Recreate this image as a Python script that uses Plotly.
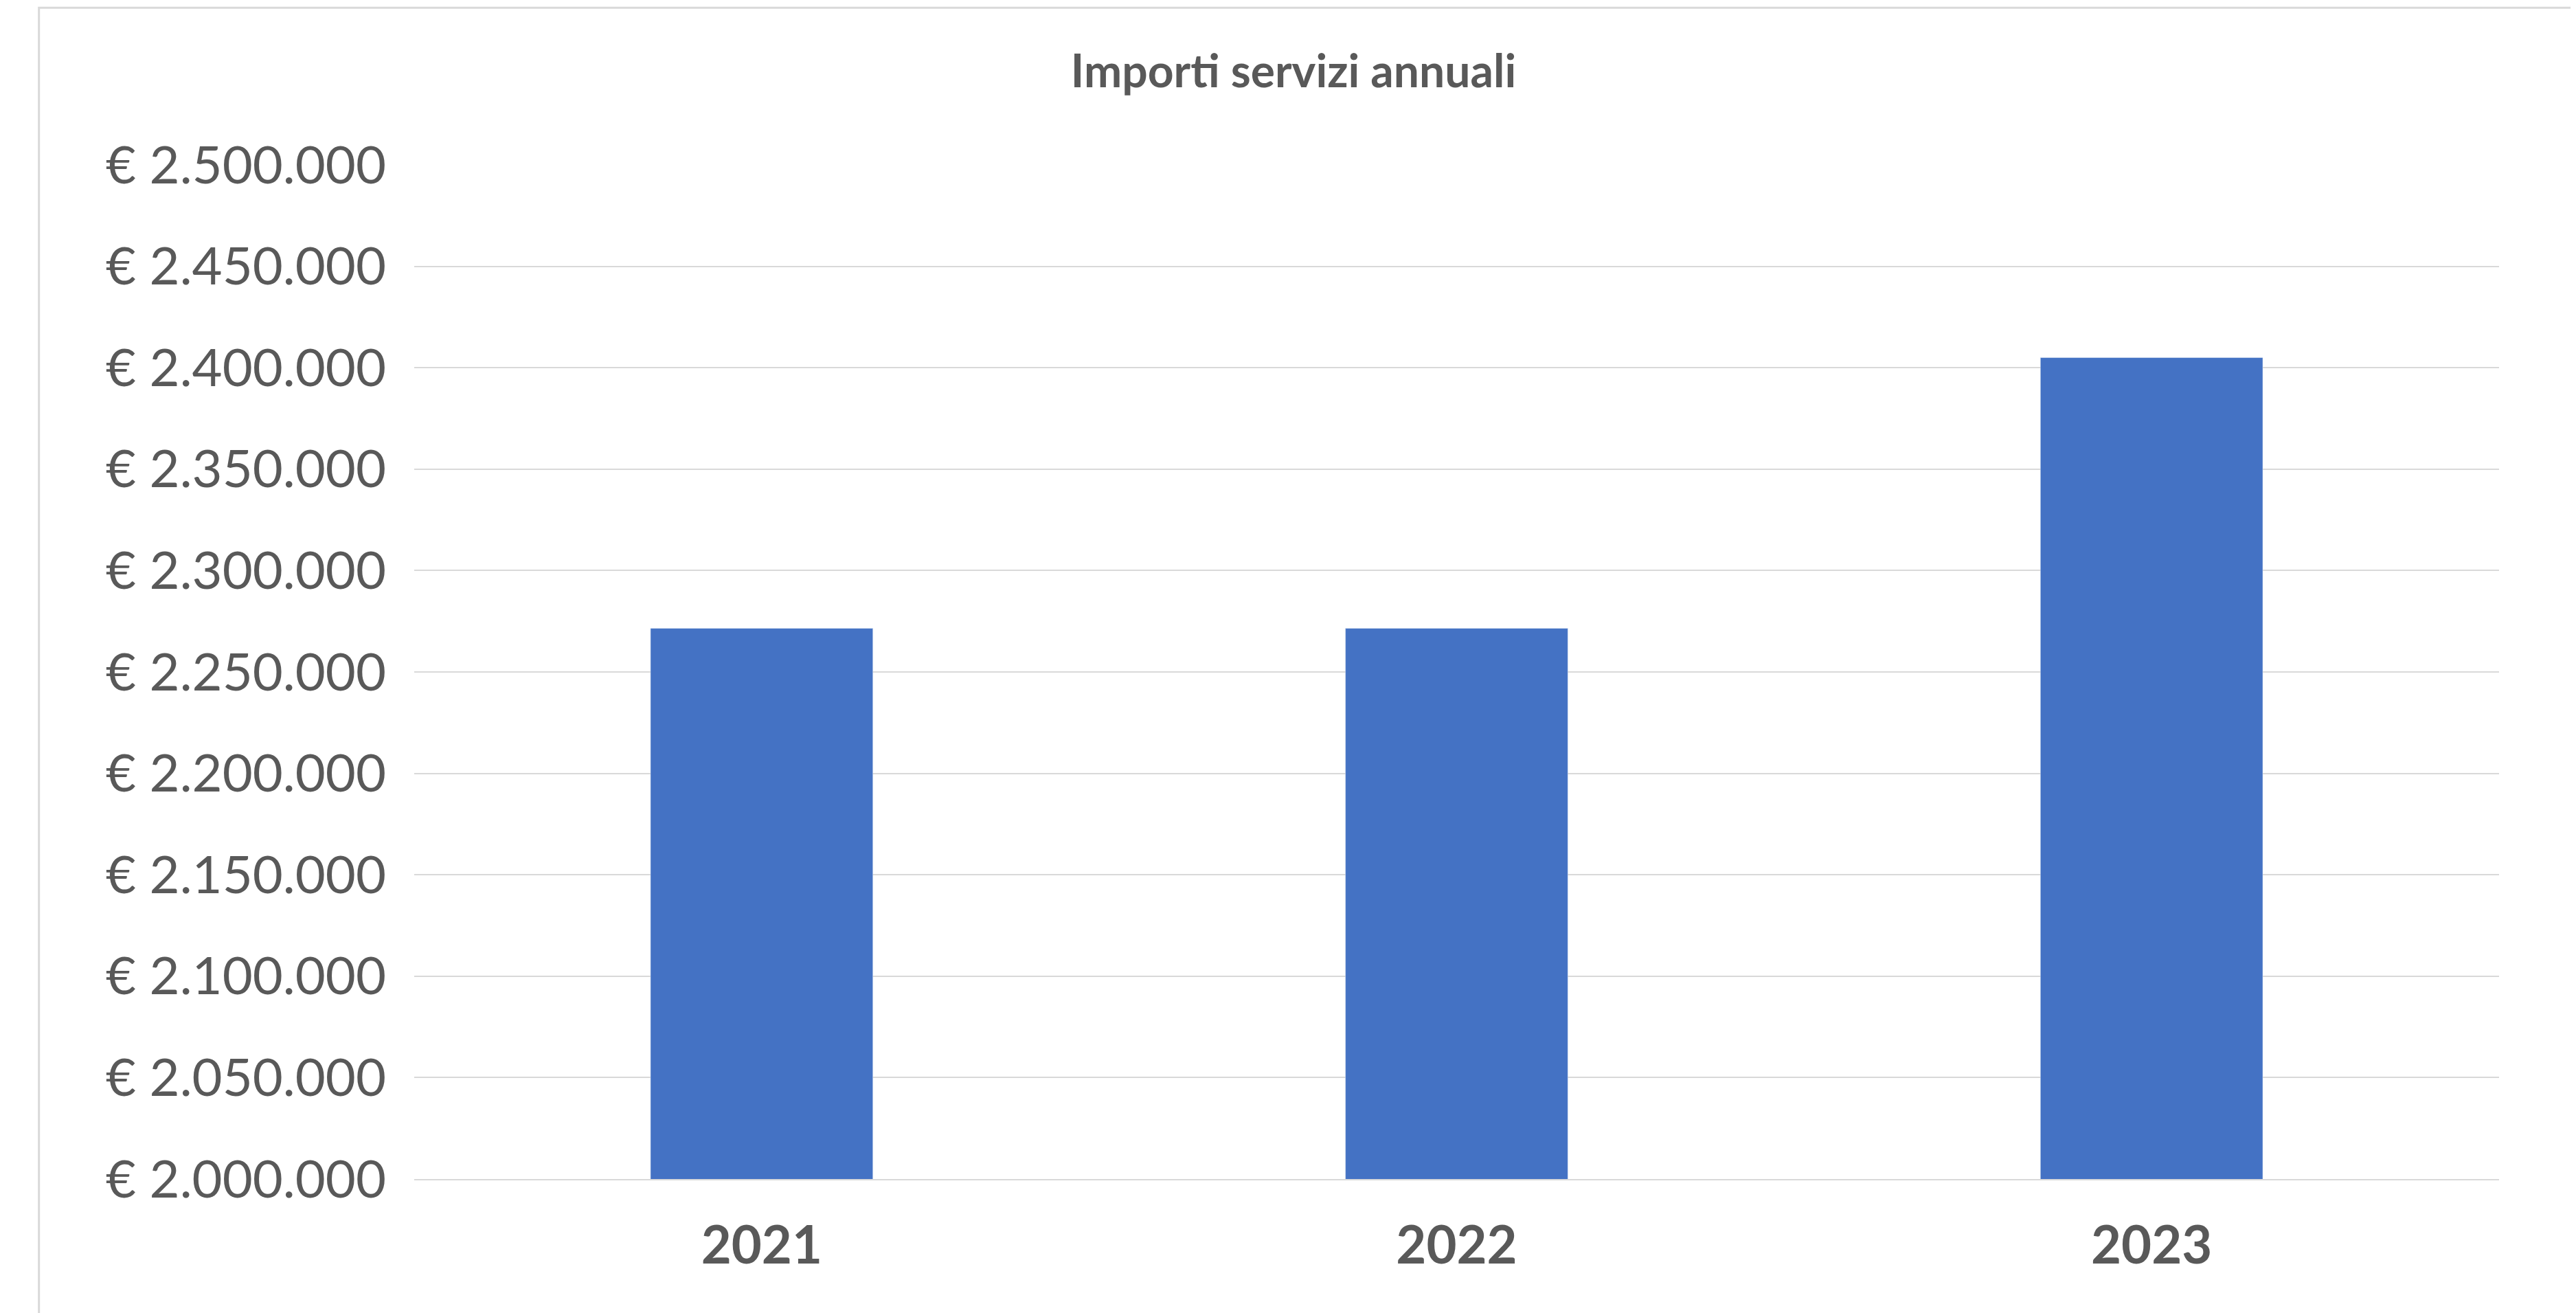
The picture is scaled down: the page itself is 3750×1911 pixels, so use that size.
import plotly.graph_objects as go

anni = ["2021", "2022", "2023"]
importi = [2271500, 2271500, 2405000]

fig = go.Figure(go.Bar(x=anni, y=importi, marker_color="#4472C4", width=0.32))

fig.update_layout(
    width=3750, height=1911,
    paper_bgcolor="white", plot_bgcolor="white",
    separators=",.",
    font=dict(family="Lato, Carlito, sans-serif", color="#595959"),
    title=dict(text="<b>Importi servizi annuali</b>", x=0.5, xanchor="center",
               y=0.95, yanchor="middle", font=dict(size=66, color="#595959")),
    margin=dict(l=595, r=120, t=232, b=203),
    showlegend=False,
    bargap=0.68,
    shapes=[dict(type="rect", xref="paper", yref="paper", x0=-0.18, x1=1.04,
                 y0=-0.135, y1=1.155, line=dict(color="#D9D9D9", width=3))],
)
fig.update_yaxes(range=[2000000, 2500000], dtick=50000, tickprefix="€ ",
                 tickformat=",d", gridcolor="#D9D9D9", gridwidth=2,
                 showline=False, zeroline=False, ticks="", ticklen=0,
                 tickfont=dict(size=76, color="#595959"), ticklabelstandoff=40)
fig.update_xaxes(showline=True, linecolor="#D9D9D9", linewidth=2, ticks="",
                 tickfont=dict(size=76, color="#595959", weight="bold"),
                 ticklabelstandoff=30)

fig.write_html("out.html")
